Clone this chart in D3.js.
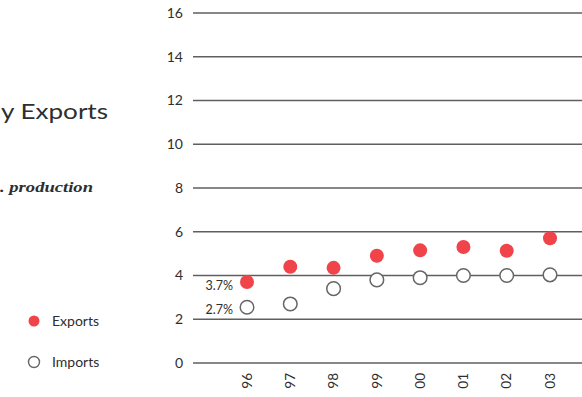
<!DOCTYPE html>
<html lang="en">
<head>
<meta charset="utf-8" />
<title>Exports and Imports</title>
<script src="https://d3js.org/d3.v7.min.js"></script>
<style>
  body { margin: 0; background: #fff; }
  text { font-family: Lato, "Open Sans", sans-serif; fill: #2e2e2e; }
  .grid line { stroke: #5f5f5f; stroke-width: 1.5; }
</style>
</head>
<body>
<script>
const years = ["96", "97", "98", "99", "00", "01", "02", "03"];
const exportsVals = [3.7, 4.4, 4.35, 4.9, 5.15, 5.3, 5.13, 5.7];
const importsVals = [2.55, 2.7, 3.4, 3.8, 3.9, 4.0, 4.0, 4.03];
const yTicks = [0, 2, 4, 6, 8, 10, 12, 14, 16];

const W = 582, H = 397;
const svg = d3.select("body").append("svg").attr("width", W).attr("height", H);

const x = d3.scalePoint().domain(years).range([247, 550]);
const y = d3.scaleLinear().domain([0, 16]).range([363, 13]);

// gridlines + y labels
const grid = svg.append("g").attr("class", "grid");
grid.selectAll("line").data(yTicks).join("line")
  .attr("x1", 193).attr("x2", W)
  .attr("y1", d => y(d)).attr("y2", d => y(d));
svg.append("g").selectAll("text").data(yTicks).join("text")
  .attr("x", 183).attr("y", d => y(d)).attr("dy", "0.35em")
  .attr("text-anchor", "end").attr("font-size", 14)
  .text(d => d);

// x labels rotated
svg.append("g").selectAll("text").data(years).join("text")
  .attr("transform", d => `translate(${x(d)},373) rotate(-90)`)
  .attr("text-anchor", "end").attr("dy", "0.35em").attr("font-size", 13.5)
  .text(d => d);

// imports
svg.append("g").selectAll("circle").data(importsVals).join("circle")
  .attr("cx", (d, i) => x(years[i])).attr("cy", d => y(d)).attr("r", 6.8)
  .attr("fill", "#fff").attr("stroke", "#666").attr("stroke-width", 1.5);

// exports
svg.append("g").selectAll("circle").data(exportsVals).join("circle")
  .attr("cx", (d, i) => x(years[i])).attr("cy", d => y(d)).attr("r", 7)
  .attr("fill", "#f0444a");

// annotations
svg.append("text").attr("x", 233).attr("y", 290).attr("text-anchor", "end")
  .attr("font-size", 12.5).text("3.7%");
svg.append("text").attr("x", 233).attr("y", 314).attr("text-anchor", "end")
  .attr("font-size", 12.5).text("2.7%");

// title (cut at left edge)
svg.append("text").attr("x", 1).attr("y", 119)
  .attr("font-size", 22).attr("textLength", 107).attr("lengthAdjust", "spacingAndGlyphs")
  .text("y Exports");
svg.append("text").attr("x", 0).attr("y", 192)
  .attr("font-size", 15).attr("font-style", "italic").attr("font-weight", "bold")
  .attr("textLength", 93).attr("lengthAdjust", "spacingAndGlyphs")
  .style("font-family", "'Liberation Serif', 'DejaVu Serif', serif")
  .text(". production");

// legend
const legend = svg.append("g");
legend.append("circle").attr("cx", 34).attr("cy", 321).attr("r", 5.5).attr("fill", "#f0444a");
legend.append("text").attr("x", 52).attr("y", 321).attr("dy", "0.35em").attr("font-size", 14).text("Exports");
legend.append("circle").attr("cx", 34).attr("cy", 362).attr("r", 5.5)
  .attr("fill", "#fff").attr("stroke", "#666").attr("stroke-width", 1.4);
legend.append("text").attr("x", 52).attr("y", 362).attr("dy", "0.35em").attr("font-size", 14).text("Imports");
</script>
</body>
</html>
